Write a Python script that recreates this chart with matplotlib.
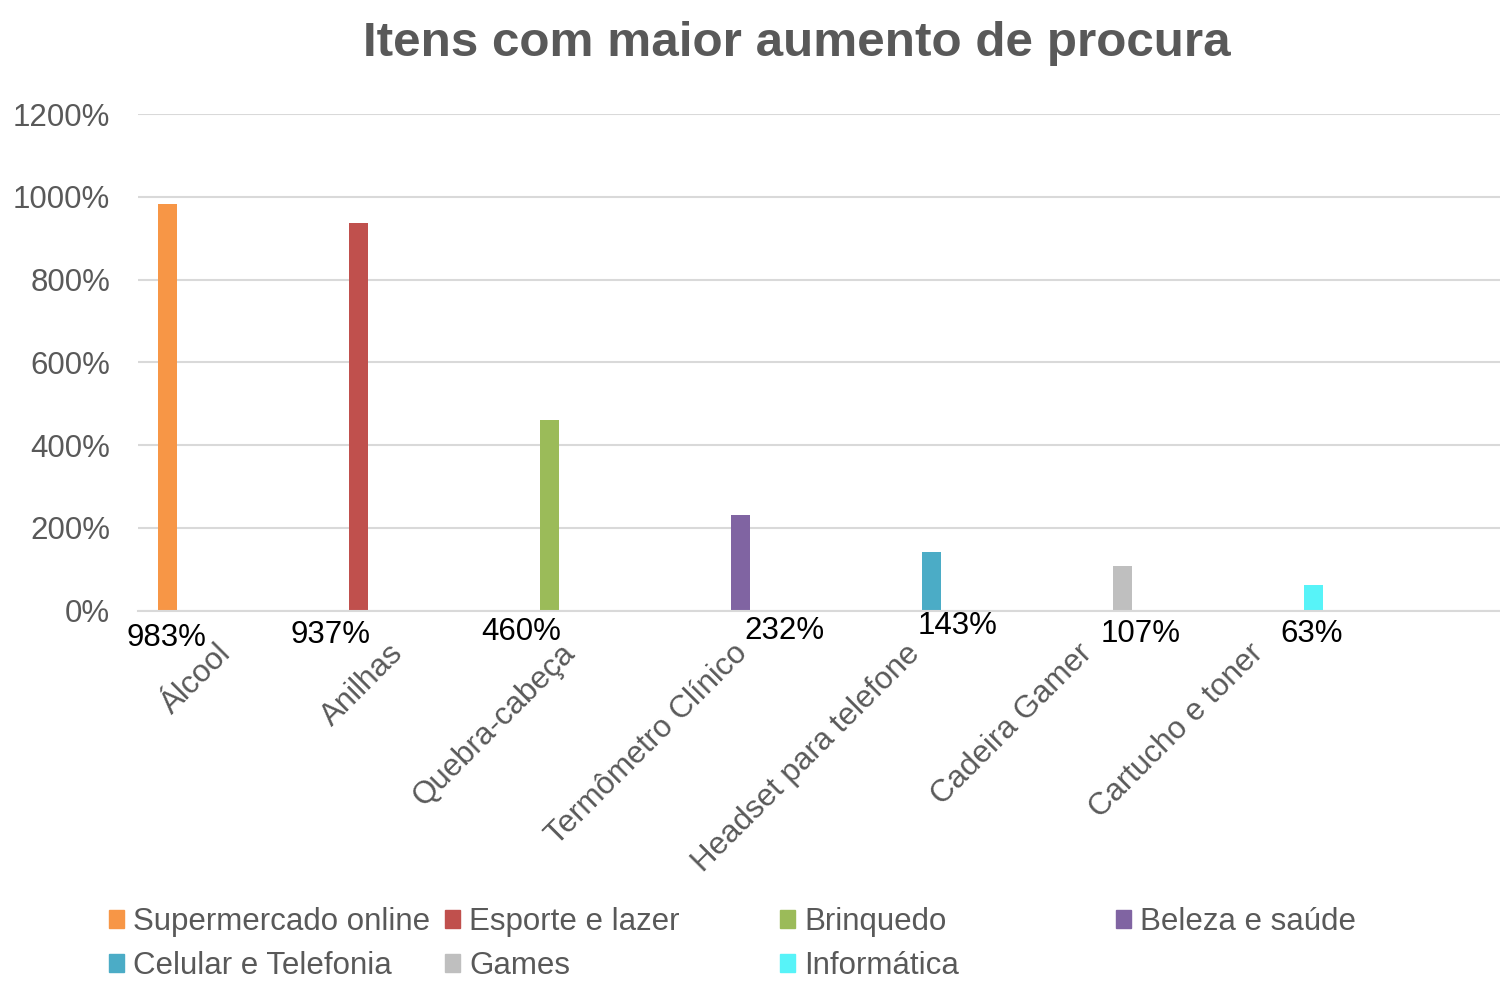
import matplotlib.pyplot as plt
import matplotlib.transforms as mtransforms
import numpy as np
from matplotlib.patches import Patch
from matplotlib.ticker import FuncFormatter

plt.rcParams["font.family"] = ["Liberation Sans", "DejaVu Sans"]

categories = ["Álcool", "Anilhas", "Quebra-cabeça", "Termômetro Clínico",
              "Headset para telefone", "Cadeira Gamer", "Cartucho e toner", ""]
series = ["Supermercado online", "Esporte e lazer", "Brinquedo", "Beleza e saúde",
          "Celular e Telefonia", "Games", "Informática"]
values = [983, 937, 460, 232, 143, 107, 63]
colors = ["#F79646", "#C0504D", "#9BBB59", "#8064A2", "#4BACC6", "#BFBFBF", "#57F3F8"]

# data label offsets in pixels (dx, dy) relative to bar foot, as placed in the original
label_offsets = [(-0.5, -27), (-27.5, -24), (-28.5, -21), (44.4, -20),
                 (26.5, -15), (18, -23), (-2, -23)]

grey = "#595959"
fs = 22.5

fig = plt.figure(figsize=(15, 9.84), dpi=100)
ax = fig.add_axes([138 / 1500, 373.3 / 984, 1362 / 1500, 496.7 / 984])

x = np.arange(len(categories))
width = 0.110
for i, (name, val, col) in enumerate(zip(series, values, colors)):
    heights = np.zeros(len(categories))
    heights[i] = val
    ax.bar(x + (i - 3) * width, heights, width, color=col, label=name, zorder=3)
    dx, dy = label_offsets[i]
    ax.annotate(f"{val}%", xy=(x[i] + (i - 3) * width, 0), xytext=(dx, dy),
                textcoords="offset pixels", ha="center", va="center",
                fontsize=fs, color="black", zorder=4)

ax.set_xlim(-0.5, 7.413)
ax.set_ylim(0, 1200)
ax.set_yticks(np.arange(0, 1201, 200))
ax.yaxis.set_major_formatter(FuncFormatter(lambda v, p: f"{int(v)}%"))
ax.grid(axis="y", color="#D9D9D9", linewidth=1.5, zorder=0)
ax.set_xticks(x)
ax.set_xticklabels(categories, rotation=45, ha="right", rotation_mode="anchor")
ax.tick_params(axis="y", length=0, pad=20, labelsize=fs, labelcolor=grey)
ax.tick_params(axis="x", length=0, pad=20, labelsize=fs, labelcolor=grey)
shift = mtransforms.ScaledTranslation(-8 / 100, 0, fig.dpi_scale_trans)
for lbl in ax.get_xticklabels():
    lbl.set_transform(lbl.get_transform() + shift)
for s in ["top", "right", "left"]:
    ax.spines[s].set_visible(False)
ax.spines["bottom"].set_color("#D9D9D9")
ax.spines["bottom"].set_linewidth(1.5)
ax.spines["bottom"].set_zorder(3)

fig.text(0.531, 1 - 44 / 984, "Itens com maior aumento de procura", ha="center",
         va="center", fontsize=35.6, fontweight="bold", color=grey)

# legend laid out in Excel's fixed-width grid, row by row
col_x = [109, 445, 780, 1116]
row_y = [922, 966]
for i, (name, col) in enumerate(zip(series, colors)):
    r, c = divmod(i, 4)
    fig.legend(handles=[Patch(color=col, label=name)], loc="center left",
               bbox_to_anchor=(col_x[c] / 1500, 1 - row_y[r] / 984),
               frameon=False, borderpad=0, borderaxespad=0,
               handlelength=0.48, handleheight=0.48, handletextpad=0.29,
               fontsize=fs, labelcolor=grey)

fig.savefig("out.png", dpi=100)
